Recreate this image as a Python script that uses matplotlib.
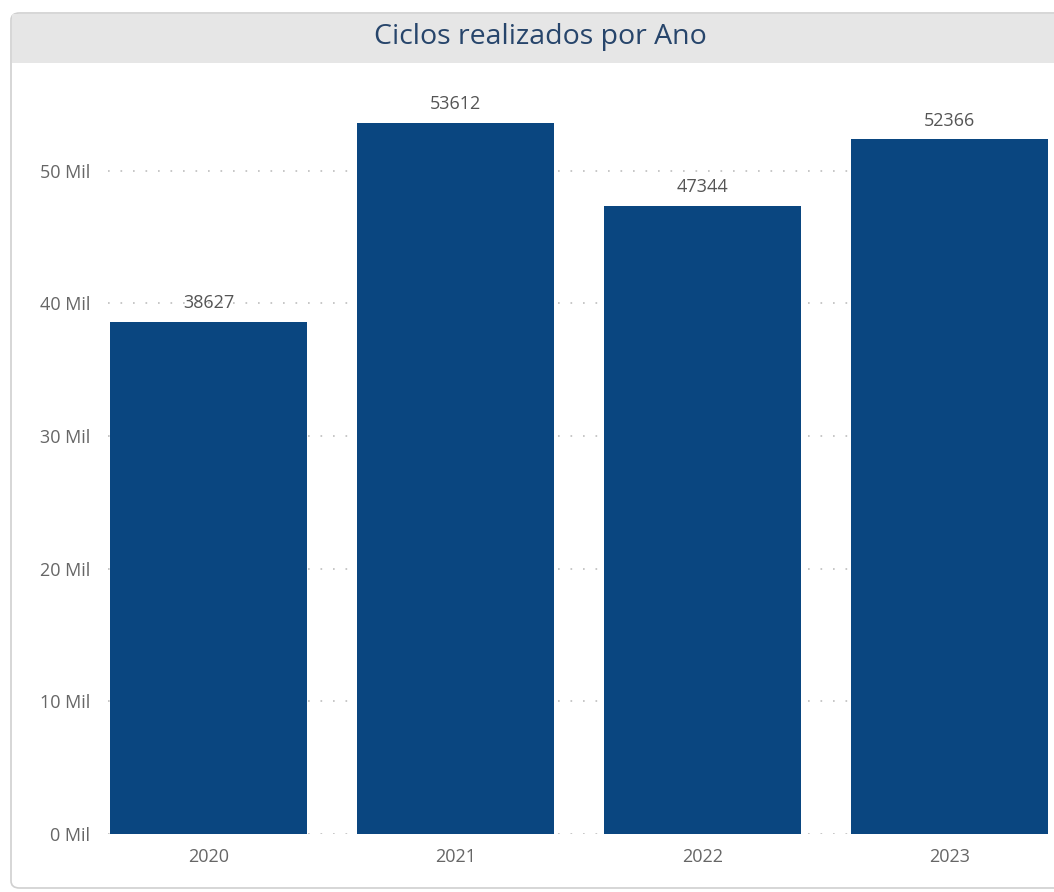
import matplotlib

matplotlib.use("Agg")
import matplotlib.pyplot as plt
from matplotlib.patches import FancyBboxPatch, Rectangle

# dados
anos = ["2020", "2021", "2022", "2023"]
ciclos = [38627, 53612, 47344, 52366]
ticks_y = [0, 10000, 20000, 30000, 40000, 50000]
ticks_y_labels = ["0 Mil", "10 Mil", "20 Mil", "30 Mil", "40 Mil", "50 Mil"]

plt.rcParams["font.family"] = ["Open Sans", "DejaVu Sans"]

W, H = 1054, 892
fig = plt.figure(figsize=(W / 100, H / 100), dpi=100)
fig.patch.set_facecolor("white")

# cartão com cabeçalho cinza (atrás dos eixos)
card = FancyBboxPatch(
	(11 / W, 4 / H), (W + 20) / W, (H - 17) / H,
	boxstyle="round,pad=0,rounding_size=0.008",
	transform=fig.transFigure, facecolor="white",
	edgecolor="#d0d0d0", linewidth=1.2, zorder=-2,
)
fig.patches.append(card)
header = Rectangle(
	(12 / W, (H - 63) / H), (W - 12) / W, 49 / H,
	transform=fig.transFigure, facecolor="#e6e6e6", edgecolor="none", zorder=-1,
)
fig.patches.append(header)
fig.text(540 / W, (H - 37) / H, "Ciclos realizados por Ano", ha="center", va="center",
		 fontsize=20.5, color="#27456b")

ax = fig.add_axes([108 / W, (H - 834) / H, (W - 108) / W, (834 - 78) / H])
ax.set_facecolor("none")
x = list(range(len(anos)))
ax.bar(x, ciclos, width=0.8, color="#0a4680", zorder=2)
for xi, v in zip(x, ciclos):
	ax.annotate(str(v), (xi, v), xytext=(0, 7), textcoords="offset points",
				ha="center", va="bottom", fontsize=13, color="#555555")

ax.set_xlim(-0.407, 3.423)
ax.set_ylim(0, 57000)
ax.set_yticks(ticks_y)
ax.set_yticklabels(ticks_y_labels)
ax.set_xticks(x)
ax.set_xticklabels(anos)
ax.tick_params(axis="both", length=0, labelsize=13, labelcolor="#666666")
ax.tick_params(axis="y", pad=13)
ax.tick_params(axis="x", pad=10)
ax.yaxis.grid(True, linestyle=(0, (1, 6.5)), color="#bdbdbd", linewidth=1.2, zorder=1)
ax.set_axisbelow(True)
for s in ax.spines.values():
	s.set_visible(False)

fig.savefig("out.png", dpi=100, facecolor="white")
